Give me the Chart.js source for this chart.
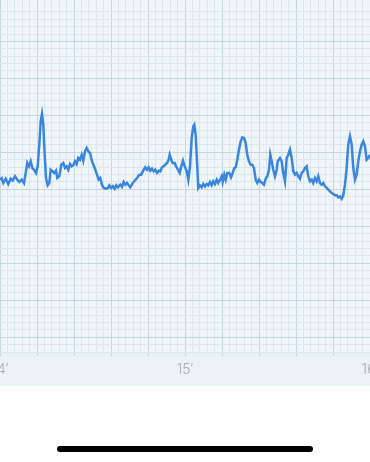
<!DOCTYPE html>
<html lang="en">

<head>
  <meta charset="UTF-8" />
  <title>ECG strip</title>
  <script src="https://cdn.jsdelivr.net/npm/chart.js"></script>
  <style>
    body {
      margin: 0;
      background: #ffffff;
      width: 370px;
      height: 462px;
      overflow: hidden;
      position: relative;
    }

    .chart-wrapper {
      position: absolute;
      left: 0;
      top: 0;
      width: 370px;
      height: 386px;
    }

    .home-bar {
      position: absolute;
      left: 57px;
      top: 446px;
      width: 256px;
      height: 6px;
      border-radius: 3px;
      background: #000;
    }
  </style>
</head>

<body>
  <div class="chart-wrapper"><canvas id="ecg"></canvas></div>
  <div class="home-bar"></div>

  <script>
    // time in seconds (14' = 840 s), amplitude in grid units (1 small square)
    const times = [
      840.0, 840.55, 841.07, 841.85, 842.69, 843.47, 844.12, 844.86, 845.61, 846.26,
      847.04, 847.78, 848.43, 848.85, 849.4, 849.96, 850.47, 851.03, 851.67, 852.23,
      852.74, 853.2, 853.62, 854.04, 854.5, 854.92, 855.47, 855.99, 856.44, 857.09,
      857.61, 858.16, 858.58, 859.23, 859.88, 860.53, 861.08, 861.63, 862.15, 862.7,
      863.25, 863.77, 864.32, 864.87, 865.39, 865.94, 866.5, 867.01, 867.57, 868.12,
      868.64, 869.19, 869.84, 870.71, 871.46, 872.01, 872.53, 873.08, 873.63, 874.38,
      875.02, 875.45, 876.09, 876.65, 877.2, 877.72, 878.27, 879.01, 879.56, 880.12,
      880.63, 881.19, 881.74, 882.26, 883.03, 883.68, 884.43, 885.17, 885.82, 886.6,
      887.12, 887.67, 888.22, 888.74, 889.29, 889.84, 890.36, 890.92, 891.47, 891.99,
      892.54, 893.09, 893.61, 894.16, 894.71, 895.03, 895.55, 896.01, 896.66, 897.08,
      897.73, 898.28, 898.8, 899.35, 899.9, 900.55, 901.07, 901.62, 902.17, 902.69,
      903.01, 903.47, 903.89, 904.31, 904.86, 905.41, 905.93, 906.48, 907.03, 907.55,
      908.1, 908.65, 909.17, 909.72, 910.28, 910.8, 911.35, 911.9, 912.22, 912.74,
      913.2, 913.71, 914.36, 914.91, 915.46, 915.98, 916.44, 916.96, 917.51, 918.06,
      918.58, 919.13, 919.68, 920.2, 920.75, 921.3, 921.82, 922.37, 922.92, 923.44,
      923.99, 924.55, 925.06, 925.62, 926.17, 926.69, 927.24, 927.66, 928.11, 928.63,
      929.18, 929.73, 930.06, 930.8, 931.35, 931.87, 932.43, 932.98, 933.5, 934.05,
      934.6, 935.12, 935.67, 936.22, 936.74, 937.29, 937.84, 938.36, 938.91, 939.46,
      939.98, 940.53, 941.08, 941.6, 942.15, 942.7, 943.22, 943.78, 944.33, 944.85,
      945.4, 945.95, 946.47, 947.02, 947.57, 948.09, 948.64, 949.19, 949.71, 950.26,
      950.81, 951.33, 951.88, 952.43, 952.95, 953.51, 954.06, 954.58, 955.13, 955.68,
      956.2, 956.75, 957.3, 957.82, 958.37, 958.92, 959.44, 960.0
    ];
    const values = [
      21.3, 21.5, 20.85, 21.43, 20.72, 21.43, 21.16, 21.76, 21.3, 20.99,
      21.3, 20.85, 22.44, 23.56, 23.11, 23.79, 22.88, 22.65, 22.21, 23.11,
      26.03, 29.2, 30.18, 28.74, 24.68, 21.53, 20.54, 20.85, 22.65, 22.43,
      22.21, 22.52, 21.53, 21.76, 23.33, 23.56, 22.88, 23.11, 22.65, 23.42,
      23.11, 23.25, 23.79, 23.42, 24.23, 24.0, 24.68, 23.87, 25.14, 25.59,
      25.14, 24.91, 23.79, 22.88, 21.98, 21.3, 21.53, 20.62, 20.18, 20.08,
      20.18, 20.54, 20.18, 20.41, 20.08, 20.54, 20.27, 20.62, 20.35, 20.99,
      20.62, 20.85, 20.54, 20.27, 20.85, 21.16, 21.53, 21.98, 21.98, 22.65,
      22.98, 22.65, 22.98, 22.52, 22.79, 22.43, 22.65, 22.21, 22.52, 22.43,
      22.98, 23.11, 23.33, 23.56, 24.0, 24.68, 24.0, 23.56, 23.56, 23.11,
      22.65, 22.21, 23.11, 23.87, 23.11, 22.43, 21.3, 23.11, 26.94, 28.52,
      28.74, 27.38, 23.79, 20.18, 20.54, 20.27, 20.72, 20.41, 20.72, 20.54,
      20.99, 20.54, 21.08, 20.72, 21.3, 20.85, 21.3, 21.76, 20.99, 21.98,
      21.3, 22.21, 22.21, 21.62, 22.21, 22.88, 22.98, 24.0, 25.36, 26.49,
      27.03, 26.94, 26.26, 24.68, 23.79, 23.33, 23.33, 22.88, 21.3, 20.85,
      21.3, 20.99, 20.85, 20.62, 21.43, 21.76, 22.65, 24.68, 23.79, 22.65,
      21.76, 22.65, 23.79, 24.23, 23.79, 22.21, 21.08, 24.23, 24.68, 25.36,
      24.23, 22.43, 21.98, 22.21, 21.76, 21.43, 22.21, 22.43, 22.88, 23.11,
      21.76, 21.08, 21.3, 20.85, 21.53, 21.08, 21.76, 20.85, 20.62, 20.85,
      20.41, 20.18, 19.95, 19.73, 19.5, 19.37, 19.19, 19.19, 18.92, 19.05,
      18.73, 19.19, 20.62, 22.88, 26.03, 27.17, 26.03, 22.88, 21.3, 21.98,
      23.79, 25.14, 26.03, 26.49, 25.82, 24.0, 24.23, 24.68
    ];
    const xMin = 840;
    const xMax = 960;
    const yMin = -2;
    const yMax = 45.6;

    const minorColor = "#dce7ee";
    const majorColor = "#c8d8e1";

    function isMultiple(v, step) {
      const r = v / step;
      return Math.abs(r - Math.round(r)) < 0.001;
    }

    const background = {
      id: "background",
      beforeDraw(chart) {
        const { ctx, chartArea } = chart;
        ctx.save();
        ctx.fillStyle = "#ebf2f6";
        ctx.fillRect(0, 0, chart.width, chart.height);
        ctx.fillStyle = "#eff5f9";
        ctx.fillRect(chartArea.left, chartArea.top,
          chartArea.right - chartArea.left, chartArea.bottom - chartArea.top);
        ctx.restore();
      },
    };

    new Chart(document.getElementById("ecg"), {
      type: "line",
      data: {
        datasets: [
          {
            data: times.map((t, i) => ({ x: t, y: values[i] })),
            borderColor: "#3a86de",
            borderWidth: 2.5,
            pointRadius: 0,
            tension: 0,
            fill: false,
          },
        ],
      },
      options: {
        animation: false,
        responsive: true,
        maintainAspectRatio: false,
        layout: { padding: 0, autoPadding: false },
        plugins: {
          legend: { display: false },
          tooltip: { enabled: false },
        },
        scales: {
          x: {
            type: "linear",
            min: xMin,
            max: xMax,
            border: { display: false },
            afterFit(scale) {
              // let the edge labels run off the canvas like the strip does
              scale.height = 34;
              scale.paddingLeft = 0;
              scale.paddingRight = 0;
            },
            grid: {
              tickLength: 4,
              color: (c) => (isMultiple(c.tick.value - xMin, 12) ? majorColor : minorColor),
              tickColor: (c) => (isMultiple(c.tick.value - xMin, 12) ? majorColor : "rgba(0,0,0,0)"),
              lineWidth: 1,
            },
            ticks: {
              stepSize: 2.4,
              autoSkip: false,
              maxRotation: 0,
              padding: 5,
              color: "#a8afb5",
              font: { family: "Inter", size: 14, weight: "300" },
              callback: (v) => (isMultiple(v, 60) ? v / 60 + "\u2032" : ""),
            },
          },
          y: {
            min: yMin,
            max: yMax,
            border: { display: false },
            afterFit(scale) {
              scale.width = 0;
              scale.paddingTop = 0;
              scale.paddingBottom = 0;
            },
            grid: {
              drawTicks: false,
              color: (c) => {
                const v = c.tick.value;
                if (!isMultiple(v, 1)) return "rgba(0,0,0,0)";
                return isMultiple(v, 5) ? majorColor : minorColor;
              },
            },
            ticks: { stepSize: 1, display: false },
          },
        },
      },
      plugins: [background],
    });
  </script>
</body>

</html>
